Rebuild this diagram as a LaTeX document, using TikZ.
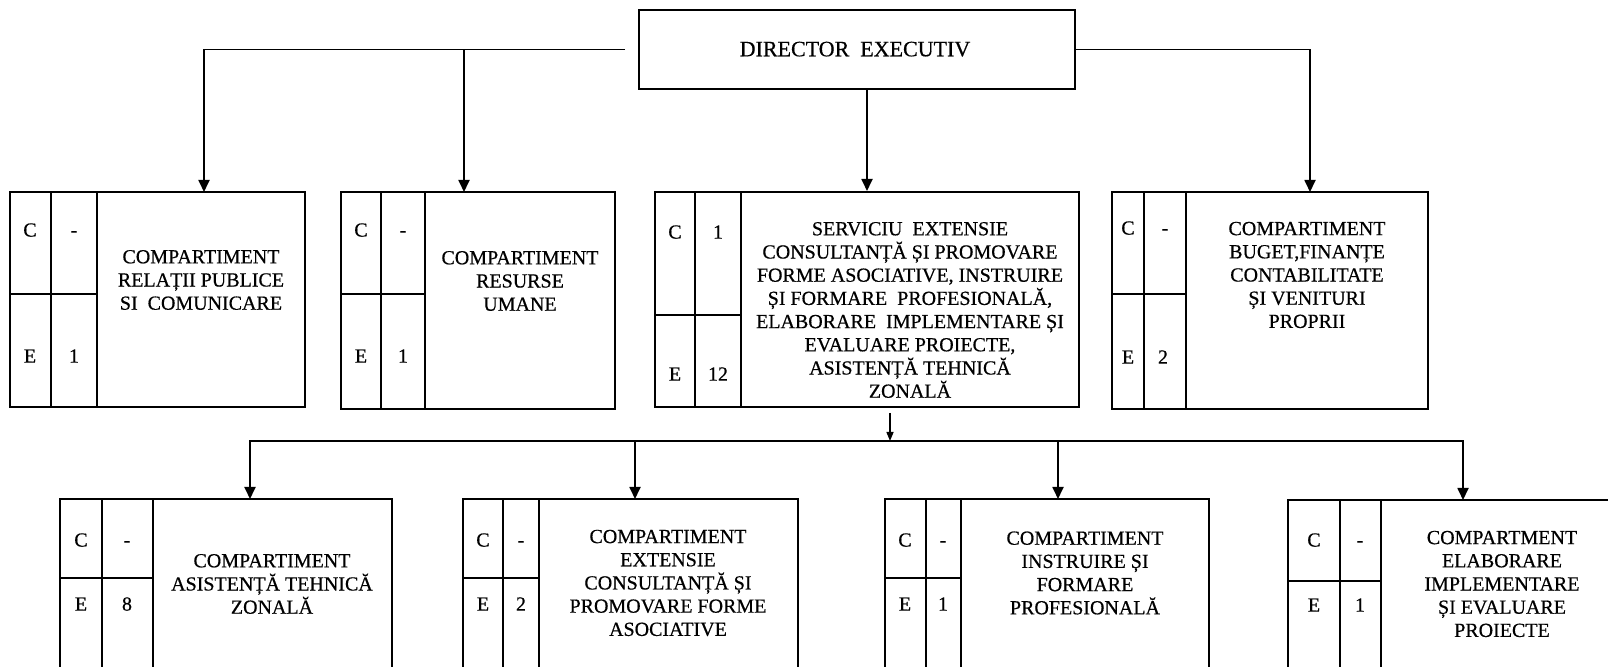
\documentclass[tikz,border=0pt]{standalone}
\usepackage{fontspec}
\setmainfont[FakeBold=0.5]{Liberation Serif}
\usetikzlibrary{arrows.meta,fit}
\begin{document}
\begin{tikzpicture}[x=0.5pt,y=-0.5pt,
  box/.style={draw,line width=1pt,inner sep=0pt},
  div/.style={line width=0.9pt},
  conn/.style={line width=0.9pt},
  arr/.style={conn,-{Triangle[length=6pt,width=5.5pt]}},
  sarr/.style={line width=0.7pt,-{Triangle[length=4.5pt,width=3.5pt]}},
  txt/.style={align=center,inner sep=0pt,font=\fontsize{10}{11.6}\selectfont},
  lbl/.style={inner sep=0pt,text height=6.6pt,text depth=0pt,font=\fontsize{10}{12}\selectfont}]
\useasboundingbox (0,0) rectangle (1608,667);
\fill[white] (0,0) rectangle (1608,667);

% director
\node[box,fit={(639,10)(1075,89)}] (dir) {};
\node[inner sep=0pt,text height=7.3pt,text depth=0pt,font=\fontsize{11}{13}\selectfont] (dirt) at (855,49) {DIRECTOR~~EXECUTIV};

% ---- row 1 boxes ----
\node[box,fit={(10,192)(305,407)}] (b1) {};
\draw[div] (51,192) -- (51,407) (97,192) -- (97,407) (10,294) -- (97,294);
\node[lbl] (b1c) at (30,230) {C};
\node[lbl] (b1cv) at (74,230) {-};
\node[lbl] (b1e) at (30,356) {E};
\node[lbl] (b1ev) at (74,356) {1};
\node[txt] (b1t) at (201,280) {COMPARTIMENT\\RELAȚII PUBLICE\\SI~~COMUNICARE};

\node[box,fit={(341,192)(615,409)}] (b2) {};
\draw[div] (381,192) -- (381,409) (425,192) -- (425,409) (341,294) -- (425,294);
\node[lbl] (b2c) at (361,230) {C};
\node[lbl] (b2cv) at (403,230) {-};
\node[lbl] (b2e) at (361,356) {E};
\node[lbl] (b2ev) at (403,356) {1};
\node[txt] (b2t) at (520,281) {COMPARTIMENT\\RESURSE\\UMANE};

\node[box,fit={(655,192)(1079,407)}] (b3) {};
\draw[div] (695,192) -- (695,407) (741,192) -- (741,407) (655,315) -- (741,315);
\node[lbl] (b3c) at (675,232) {C};
\node[lbl] (b3cv) at (718,232) {1};
\node[lbl] (b3e) at (675,374) {E};
\node[lbl] (b3ev) at (718,374) {12};
\node[txt] (b3t) at (910,310) {SERVICIU~~EXTENSIE\\CONSULTANȚĂ ȘI PROMOVARE\\FORME ASOCIATIVE, INSTRUIRE\\ȘI FORMARE~~PROFESIONALĂ,\\ELABORARE~~IMPLEMENTARE ȘI\\EVALUARE PROIECTE,\\ASISTENȚĂ TEHNICĂ\\ZONALĂ};

\node[box,fit={(1112,192)(1428,409)}] (b4) {};
\draw[div] (1144,192) -- (1144,409) (1186,192) -- (1186,409) (1112,294) -- (1186,294);
\node[lbl] (b4c) at (1128,228) {C};
\node[lbl] (b4cv) at (1165,228) {-};
\node[lbl] (b4e) at (1128,357) {E};
\node[lbl] (b4ev) at (1163,357) {2};
\node[txt] (b4t) at (1307,275) {COMPARTIMENT\\BUGET,FINANȚE\\CONTABILITATE\\ȘI VENITURI\\PROPRII};

% ---- row 2 boxes ----
\node[box,fit={(60,499)(392,680)}] (b5) {};
\draw[div] (102,499) -- (102,680) (153,499) -- (153,680) (60,578) -- (153,578);
\node[lbl] (b5c) at (81,540) {C};
\node[lbl] (b5cv) at (127,540) {-};
\node[lbl] (b5e) at (81,604) {E};
\node[lbl] (b5ev) at (127,604) {8};
\node[txt] (b5t) at (272,584) {COMPARTIMENT\\ASISTENȚĂ TEHNICĂ\\ZONALĂ};

\node[box,fit={(463,499)(798,680)}] (b6) {};
\draw[div] (503,499) -- (503,680) (539,499) -- (539,680) (463,578) -- (539,578);
\node[lbl] (b6c) at (483,540) {C};
\node[lbl] (b6cv) at (521,540) {-};
\node[lbl] (b6e) at (483,604) {E};
\node[lbl] (b6ev) at (521,604) {2};
\node[txt] (b6t) at (668,583) {COMPARTIMENT\\EXTENSIE\\CONSULTANȚĂ ȘI\\PROMOVARE FORME\\ASOCIATIVE};

\node[box,fit={(885,499)(1209,680)}] (b7) {};
\draw[div] (926,499) -- (926,680) (961,499) -- (961,680) (885,578) -- (961,578);
\node[lbl] (b7c) at (905,540) {C};
\node[lbl] (b7cv) at (943,540) {-};
\node[lbl] (b7e) at (905,604) {E};
\node[lbl] (b7ev) at (943,604) {1};
\node[txt] (b7t) at (1085,573) {COMPARTIMENT\\INSTRUIRE ȘI\\FORMARE\\PROFESIONALĂ};

\node[box,fit={(1288,500)(1660,680)}] (b8) {};
\draw[div] (1340,500) -- (1340,680) (1381,500) -- (1381,680) (1288,581) -- (1381,581);
\node[lbl] (b8c) at (1314,540) {C};
\node[lbl] (b8cv) at (1360,540) {-};
\node[lbl] (b8e) at (1314,605) {E};
\node[lbl] (b8ev) at (1360,605) {1};
\node[txt] (b8t) at (1502,584) {COMPARTMENT\\ELABORARE\\IMPLEMENTARE\\ȘI EVALUARE\\PROIECTE};

% ---- entry points ----
\coordinate (b1in) at (204,192);
\coordinate (b2in) at (464,192);
\coordinate (b4in) at (1310,192);
\coordinate (b3out) at (890,407);
\coordinate (bus) at (890,441);
\coordinate (b5in) at (250,499);
\coordinate (b6in) at (635,499);
\coordinate (b7in) at (1058,499);
\coordinate (b8in) at (1463,500);

% ---- connectors ----
\draw[arr,shorten <=6.5pt] (dir.west) -| (b1in);
\draw[arr] (dir.west -| b2in) -- (b2in);
\draw[arr] (dir.east) -| (b4in);
\draw[arr] (b3.north |- dir.south) -- (b3.north);

\draw[sarr,shorten <=3pt] (b3out) -- (bus);
\draw[arr] (bus) -| (b5in);
\draw[arr] (bus) -| (b8in);
\draw[arr] (b6in |- bus) -- (b6in);
\draw[arr] (b7in |- bus) -- (b7in);
\end{tikzpicture}
\end{document}
